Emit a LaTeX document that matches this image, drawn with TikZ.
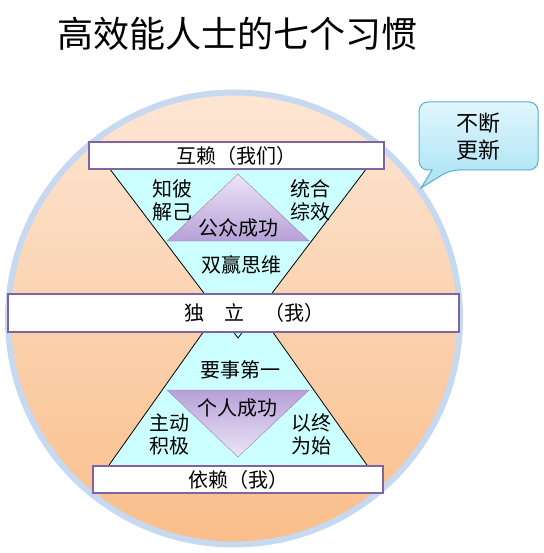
\documentclass[tikz,border=0pt]{standalone}
\usepackage{fontspec}
\setmainfont{Noto Sans CJK SC}
\usetikzlibrary{positioning}
\definecolor{ring}{RGB}{198,217,240}
\definecolor{peachtop}{RGB}{253,230,212}
\definecolor{peachbot}{RGB}{250,190,138}
\definecolor{glass}{RGB}{204,255,255}
\definecolor{barline}{RGB}{128,100,162}
\definecolor{lilaclt}{RGB}{236,230,246}
\definecolor{lilacdk}{RGB}{183,160,216}
\definecolor{lilacln}{RGB}{150,125,190}
\definecolor{bubbletop}{RGB}{224,246,252}
\definecolor{bubblebot}{RGB}{168,226,244}
\definecolor{bubbleln}{RGB}{90,175,205}

\begin{document}
\begin{tikzpicture}[x=1pt, y=-1pt,
        bar/.style={draw=barline, line width=1.5pt, fill=white, minimum height=27pt, inner sep=0pt, font=\fontsize{20}{23}\selectfont},
        glasstri/.style={draw=black, line width=0.8pt, fill=glass},
        lbl/.style={font=\fontsize{20}{23}\selectfont, align=center, inner sep=0pt}
    ]
        \useasboundingbox (0,0) rectangle (543,553);
        \node[font=\fontsize{36}{40}\selectfont, inner sep=0pt] (title) at (237,34) {高效能人士的七个习惯};

        % the wheel
        \node[circle, draw=ring, line width=6pt, minimum size=452pt, inner sep=0pt,
              top color=peachtop, bottom color=peachbot] (wheel) at (234,318.5) {};

        % hourglass
        \draw[glasstri] (102,475) -- (374,475) -- (238,283) -- cycle;
        \draw[glasstri] (103,160) -- (373,160) -- (238,338) -- cycle;
        \draw[lilacln, top color=lilaclt, bottom color=lilacdk] (238,174) -- (309,241) -- (167,241) -- cycle;
        \draw[lilacln, top color=lilacdk, bottom color=lilaclt] (167,390) -- (309,390) -- (238,457) -- cycle;

        % levels
        \node[bar, minimum width=295pt] (we) at (236.5,155.5) {互赖（我们）};
        \node[bar, minimum width=451pt, minimum height=38pt] (indepbar) at (233.5,313) {};
        \node[lbl] (indep) at (254,313) {独\quad 立\quad （我）};
        \node[bar, minimum width=290pt] (dep) at (238,479.5) {依赖（我）};

        % habits
        \node[lbl] (know) at (172,200) {知彼\\解己};
        \node[lbl] (synergy) at (310,200) {统合\\综效};
        \node[lbl] (public) at (238,228) {公众成功};
        \node[lbl] (winwin) at (241,265) {双赢思维};
        \node[lbl] (first) at (240,370) {要事第一};
        \node[lbl] (private) at (237,408) {个人成功};
        \node[lbl] (proactive) at (169,434) {主动\\积极};
        \node[lbl] (endmind) at (311,434) {以终\\为始};

        % callout
        \draw[bubbleln, line width=1pt, top color=bubbletop, bottom color=bubblebot, rounded corners=9pt]
            (419,102) -- (538,102) -- (538,170) -- (450,170) [sharp corners] -- (421,188) -- (432,170) [rounded corners=9pt] -- (419,170) -- cycle;
        \node[font=\fontsize{22}{27}\selectfont, align=center, inner sep=0pt] (renew) at (478,137) {不断\\更新};
    \end{tikzpicture}
\end{document}
